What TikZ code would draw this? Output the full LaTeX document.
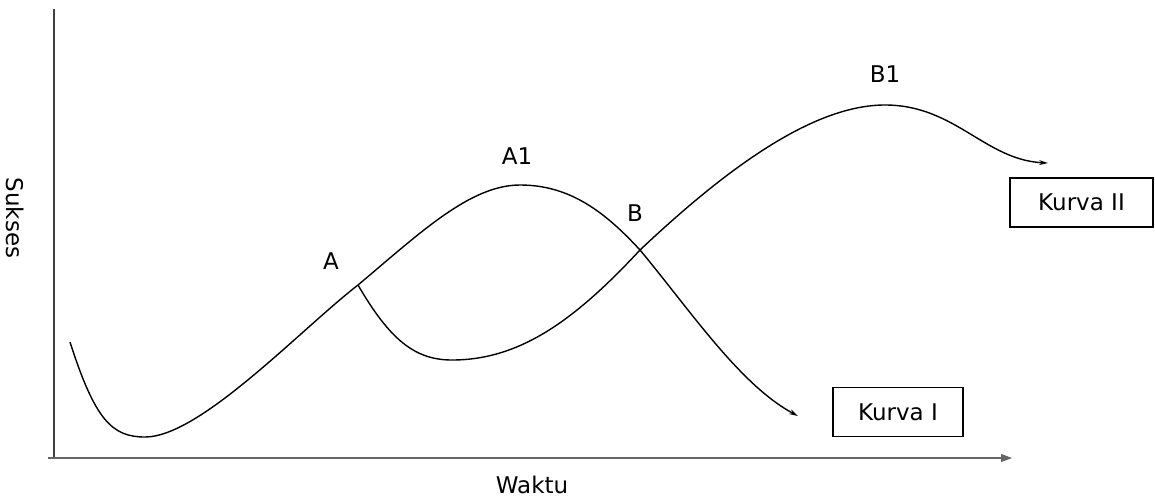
\documentclass[tikz,border=0pt]{standalone}
\usepackage{fontspec}
\setmainfont{DejaVu Sans}
\usetikzlibrary{arrows.meta,positioning}

\begin{document}
\begin{tikzpicture}[
  x=1pt, y=-1pt,
  every node/.style={font=\fontsize{23}{27}\selectfont},
  kurva/.style={draw, line width=1.2pt, minimum height=49pt, inner sep=0pt},
  curve/.style={line width=1.4pt},
  >=Stealth
]
\useasboundingbox (0,0) rectangle (1155,499);

% axes
\coordinate (origin) at (54,458);
\coordinate (ytop) at (54,9);
\coordinate (xstart) at (48,458);
\coordinate (xend) at (1012,458);
\draw[line width=1.2pt, black!75] (origin) -- (ytop);
\draw[line width=1.2pt, black!60, -{Triangle[length=11pt,width=8pt]}] (xstart) -- (xend);
\node[rotate=-90] (ylab) at (15,218) {Sukses};
\node (xlab) at (532,485) {Waktu};

% key points
\coordinate (start) at (70,342);
\coordinate (low) at (145,437);
\coordinate (A) at (358,285);
\coordinate (A1) at (520,185);
\coordinate (B) at (640,250);
\coordinate (end1) at (798,416);
\coordinate (dip) at (452,360);
\coordinate (B1) at (885,105);
\coordinate (end2) at (1048,163);

% curve I
\draw[curve, -{Stealth[length=9pt,width=5pt]}] (start)
  .. controls (95,420) and (112,437) .. (low)
  .. controls (200,437) and (300,330) .. (A)
  .. controls (420,233) and (470,185) .. (A1)
  .. controls (570,185) and (605,212) .. (B)
  .. controls (690,310) and (740,385) .. (end1);

% curve II
\draw[curve, -{Stealth[length=9pt,width=5pt]}] (A)
  .. controls (390,340) and (415,360) .. (dip)
  .. controls (520,360) and (575,320) .. (B)
  .. controls (730,165) and (815,105) .. (B1)
  .. controls (955,105) and (985,160) .. (end2);

% labels
\node (lA) at (331,261) {A};
\node (lA1) at (517,156) {A1};
\node (lB) at (635,213) {B};
\node (lB1) at (885,74) {B1};

\node[kurva, minimum width=130pt] (k1) at (898,412) {Kurva I};
\node[kurva, minimum width=143pt] (k2) at (1081.5,202.5) {Kurva II};
\end{tikzpicture}
\end{document}
